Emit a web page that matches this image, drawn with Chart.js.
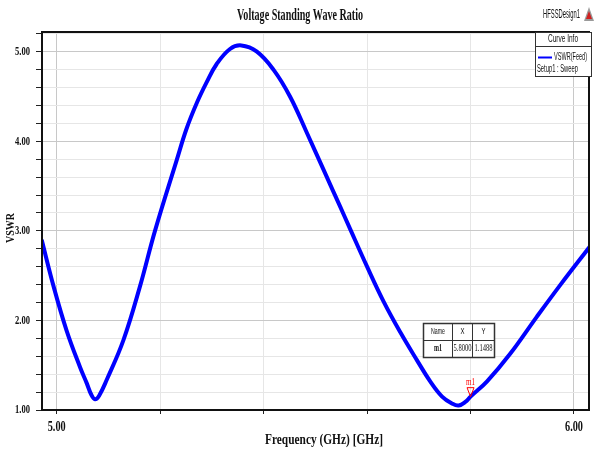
<!DOCTYPE html>
<html>
<head>
<meta charset="utf-8">
<script src="https://cdn.jsdelivr.net/npm/chart.js@4"></script>
<style>
  html, body { margin: 0; padding: 0; background: #fff; }
  #wrap { width: 597px; height: 455px; }
</style>
</head>
<body>
<div id="wrap"><canvas id="vswrChart" width="597" height="455"></canvas></div>
<script>
// values
const freqGHz = [4.971, 4.994, 5.019, 5.045, 5.058, 5.067, 5.074, 5.082, 5.097, 5.129,
                 5.161, 5.190, 5.232, 5.251, 5.271, 5.290, 5.309, 5.335, 5.357, 5.387,
                 5.419, 5.451, 5.484, 5.516, 5.548, 5.565, 5.600, 5.632, 5.664, 5.696,
                 5.722, 5.745, 5.765, 5.777, 5.790, 5.800, 5.832, 5.877, 5.928, 5.974, 6.030];
const vswrFeed = [2.90, 2.38, 1.89, 1.48, 1.30, 1.17, 1.12, 1.16, 1.34, 1.78,
                  2.38, 3.00, 3.79, 4.14, 4.43, 4.66, 4.86, 5.03, 5.07, 5.00,
                  4.80, 4.50, 4.09, 3.68, 3.27, 3.05, 2.60, 2.21, 1.87, 1.56,
                  1.32, 1.15, 1.07, 1.05, 1.09, 1.149, 1.32, 1.63, 2.04, 2.40, 2.82];
const xTickValues = [5.0, 5.2, 5.4, 5.6, 5.8, 6.0];
const yTickValues = [1.0, 1.2, 1.4, 1.6, 1.8, 2.0, 2.2, 2.4, 2.6, 2.8, 3.0,
                     3.2, 3.4, 3.6, 3.8, 4.0, 4.2, 4.4, 4.6, 4.8, 5.0, 5.2];
const markerName = 'm1';
const markerX = 5.8;
const markerY = 1.1488;

const SERIF = '"Liberation Serif", "Times New Roman", serif';
const SANS = '"Liberation Sans", Arial, sans-serif';

function isWhole(v) { return Math.abs(v - Math.round(v)) < 1e-6; }

// HFSS uses narrow fonts, so squeeze text to a given width
function narrowText(ctx, text, x, y, font, width, align) {
  ctx.save();
  ctx.font = font;
  ctx.textBaseline = 'middle';
  ctx.textAlign = 'left';
  const sx = width / ctx.measureText(text).width;
  let left = x;
  if (align === 'center') left = x - width / 2;
  if (align === 'right') left = x - width;
  ctx.translate(left, y);
  ctx.scale(sx, 1);
  ctx.fillText(text, 0, 0);
  ctx.restore();
}

const hfssDecor = {
  id: 'hfssDecor',
  afterDraw(chart) {
    const ctx = chart.ctx;
    const area = chart.chartArea;
    const xs = chart.scales.x;
    const ys = chart.scales.y;

    // plot frame
    ctx.save();
    ctx.strokeStyle = '#111';
    ctx.lineWidth = 2;
    ctx.strokeRect(area.left, area.top, area.right - area.left, area.bottom - area.top);
    ctx.restore();

    ctx.fillStyle = '#111';
    // tick labels
    ys.ticks.forEach(t => {
      if (isWhole(t.value)) {
        narrowText(ctx, t.value.toFixed(2), 30, ys.getPixelForValue(t.value), 'bold 13px ' + SERIF, 15, 'right');
      }
    });
    xs.ticks.forEach(t => {
      if (isWhole(t.value)) {
        narrowText(ctx, t.value.toFixed(2), xs.getPixelForValue(t.value), 427, 'bold 15px ' + SERIF, 18, 'center');
      }
    });

    // titles
    narrowText(ctx, 'Voltage Standing Wave Ratio', 300, 16, 'bold 16px ' + SERIF, 126, 'center');
    narrowText(ctx, 'Frequency (GHz) [GHz]', 324, 440, 'bold 15px ' + SERIF, 118, 'center');
    ctx.save();
    ctx.translate(11, 228);
    ctx.rotate(-Math.PI / 2);
    narrowText(ctx, 'VSWR', 0, 0, 'bold 13px ' + SERIF, 30, 'center');
    ctx.restore();

    // design name + little logo
    narrowText(ctx, 'HFSSDesign1', 543, 15, '12px ' + SANS, 37, 'left');
    ctx.save();
    ctx.fillStyle = '#9a9a9a';
    ctx.beginPath();
    ctx.moveTo(589, 7); ctx.lineTo(594, 21); ctx.lineTo(584, 21); ctx.closePath();
    ctx.fill();
    ctx.fillStyle = '#d02020';
    ctx.beginPath();
    ctx.moveTo(589, 11); ctx.lineTo(592, 19); ctx.lineTo(586, 19); ctx.closePath();
    ctx.fill();
    ctx.restore();

    // curve info box
    ctx.save();
    ctx.fillStyle = '#fff';
    ctx.fillRect(535.5, 32.5, 56, 44);
    ctx.strokeStyle = '#333';
    ctx.lineWidth = 1;
    ctx.strokeRect(535.5, 32.5, 56, 44);
    ctx.beginPath();
    ctx.moveTo(535.5, 46.5); ctx.lineTo(591.5, 46.5);
    ctx.stroke();
    ctx.strokeStyle = '#0000ff';
    ctx.lineWidth = 2;
    ctx.beginPath();
    ctx.moveTo(538, 57.5); ctx.lineTo(552, 57.5);
    ctx.stroke();
    ctx.fillStyle = '#111';
    narrowText(ctx, 'Curve Info', 563, 39.5, '10px ' + SANS, 30, 'center');
    narrowText(ctx, 'VSWR(Feed)', 554, 57, '10px ' + SANS, 33, 'left');
    narrowText(ctx, 'Setup1 : Sweep', 537, 69, '10px ' + SANS, 41, 'left');
    ctx.restore();

    // marker on the curve
    const px = xs.getPixelForValue(markerX);
    const py = ys.getPixelForValue(markerY);
    ctx.save();
    ctx.strokeStyle = '#ff0000';
    ctx.fillStyle = '#ff0000';
    ctx.lineWidth = 1;
    ctx.beginPath();
    ctx.moveTo(px - 3.5, py - 9); ctx.lineTo(px + 3.5, py - 9); ctx.lineTo(px, py);
    ctx.closePath();
    ctx.stroke();
    narrowText(ctx, markerName, px, py - 15, '11px ' + SERIF, 9, 'center');
    ctx.restore();

    // marker table
    ctx.save();
    ctx.fillStyle = '#fff';
    ctx.fillRect(423.5, 323.5, 71, 34);
    ctx.strokeStyle = '#333';
    ctx.lineWidth = 1.5;
    ctx.strokeRect(423.5, 323.5, 71, 34);
    ctx.lineWidth = 1;
    ctx.beginPath();
    ctx.moveTo(423.5, 340.5); ctx.lineTo(494.5, 340.5);
    ctx.moveTo(452.5, 323.5); ctx.lineTo(452.5, 357.5);
    ctx.moveTo(472.5, 323.5); ctx.lineTo(472.5, 357.5);
    ctx.stroke();
    ctx.fillStyle = '#111';
    narrowText(ctx, 'Name', 438, 331.5, '9px ' + SANS, 14, 'center');
    narrowText(ctx, 'X', 462.5, 331.5, '9px ' + SANS, 4, 'center');
    narrowText(ctx, 'Y', 483.5, 331.5, '9px ' + SANS, 4, 'center');
    narrowText(ctx, markerName, 438, 348.5, 'bold 10px ' + SERIF, 8, 'center');
    narrowText(ctx, markerX.toFixed(4), 462.5, 348.5, '11px ' + SERIF, 18, 'center');
    narrowText(ctx, markerY.toFixed(4), 483.5, 348.5, '11px ' + SERIF, 18, 'center');
    ctx.restore();
  }
};

const ctx = document.getElementById('vswrChart').getContext('2d');
const vswrChart = new Chart(ctx, {
  type: 'line',
  data: {
    datasets: [{
      label: 'VSWR(Feed)',
      data: freqGHz.map((f, i) => ({ x: f, y: vswrFeed[i] })),
      borderColor: '#0000ff',
      borderWidth: 4,
      pointRadius: 0,
      tension: 0.4,
      fill: false
    }]
  },
  options: {
    responsive: false,
    animation: false,
    devicePixelRatio: 1,
    layout: { padding: { left: 0, right: 8, top: 32, bottom: 0 } },
    plugins: {
      legend: { display: false },
      title: { display: false },
      tooltip: { enabled: false }
    },
    scales: {
      x: {
        type: 'linear',
        min: 4.9716,
        max: 6.029,
        afterBuildTicks: s => { s.ticks = xTickValues.map(v => ({ value: v })); },
        afterFit: s => { s.height = 45; },
        ticks: { display: false },
        grid: {
          color: c => (c.tick && isWhole(c.tick.value)) ? '#c8c8c8' : '#e6e6e6',
          tickColor: '#222',
          tickLength: 4
        },
        border: { display: true, color: '#111', width: 2 }
      },
      y: {
        min: 1,
        max: 5.22,
        afterBuildTicks: s => { s.ticks = yTickValues.map(v => ({ value: v })); },
        afterFit: s => { s.width = 42; },
        ticks: { display: false },
        grid: {
          color: c => (c.tick && isWhole(c.tick.value)) ? '#c8c8c8' : '#e6e6e6',
          tickColor: '#222',
          tickLength: 6
        },
        border: { display: true, color: '#111', width: 2 }
      }
    }
  },
  plugins: [hfssDecor]
});
</script>
</body>
</html>
